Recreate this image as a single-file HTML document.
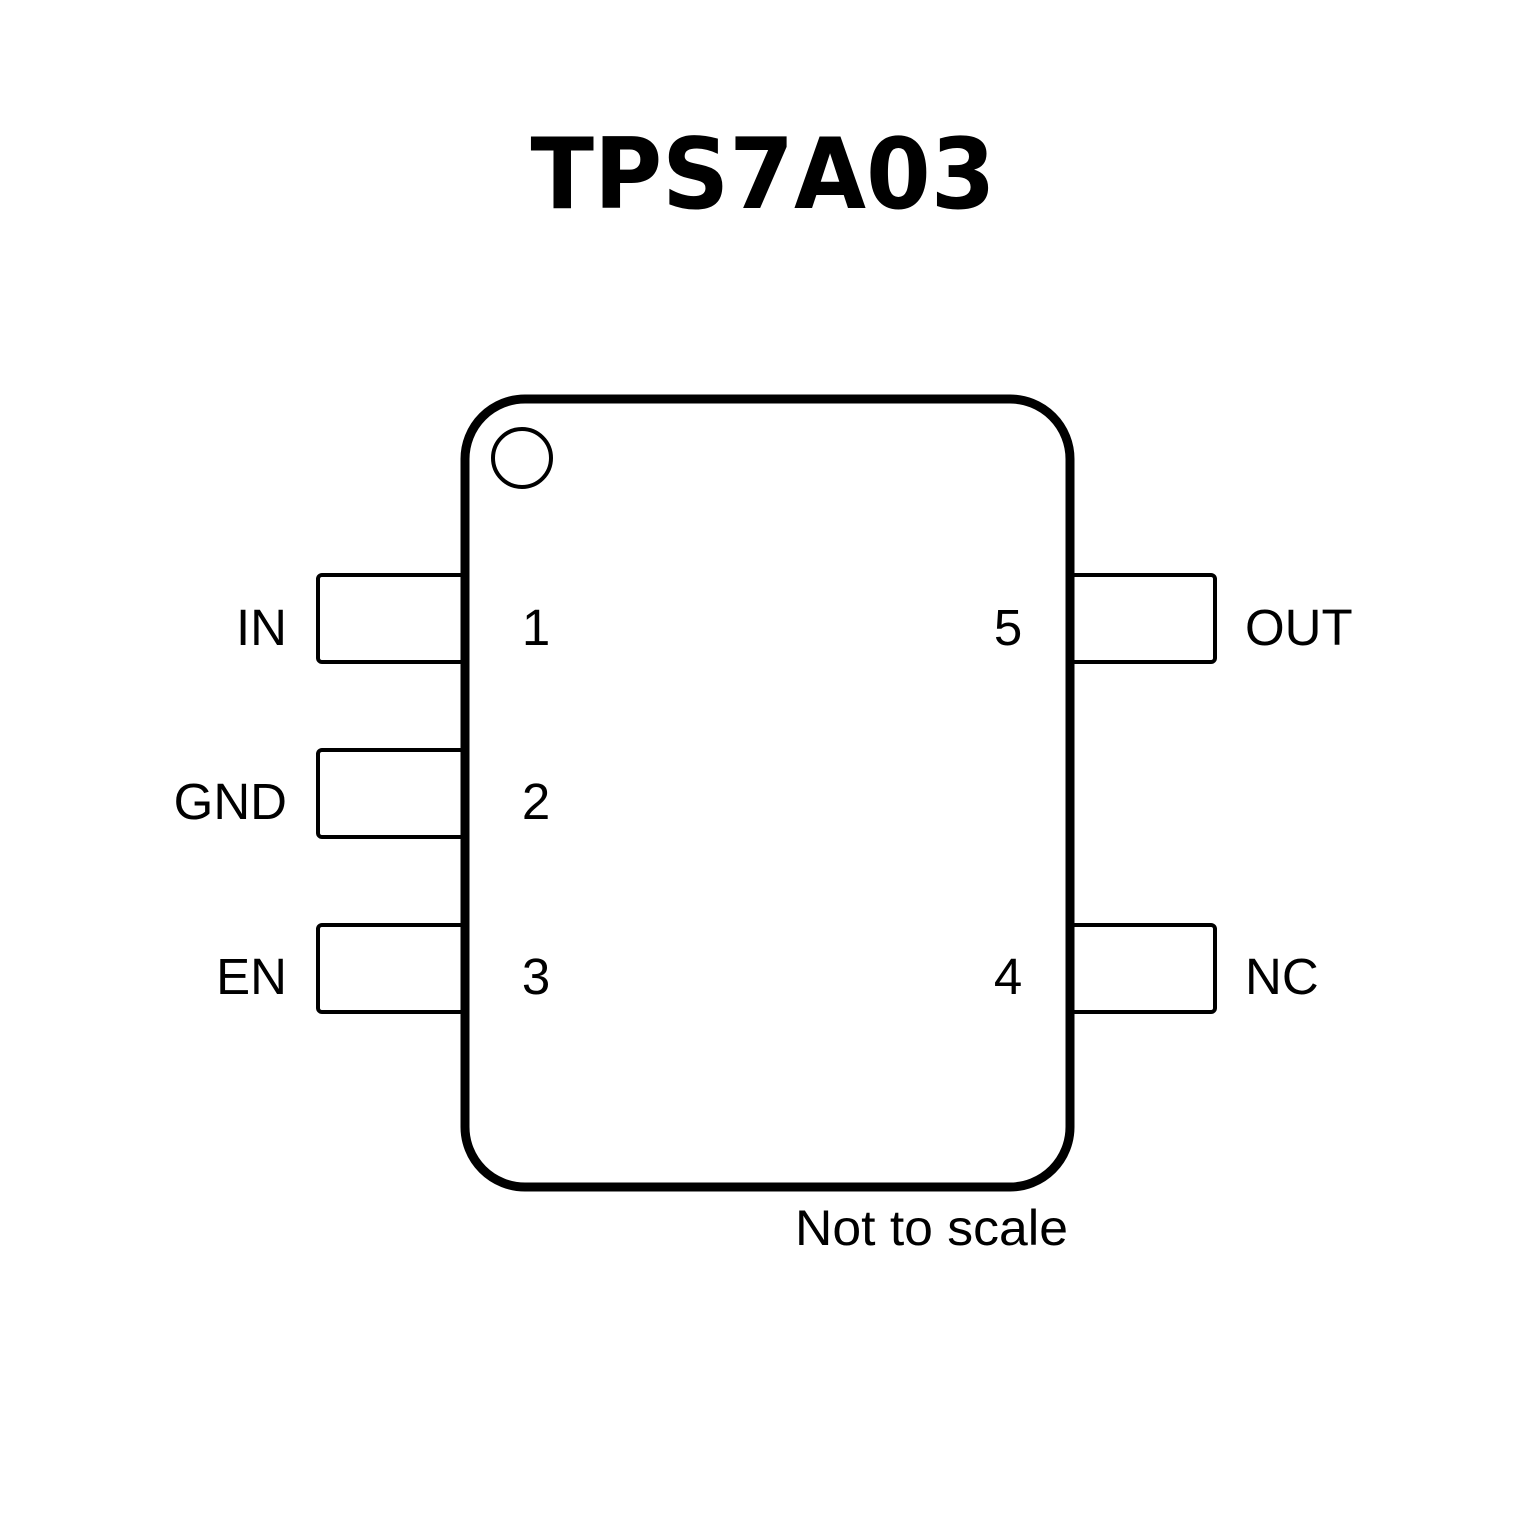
<!DOCTYPE html>
<html><head><meta charset="utf-8"><style>html,body{margin:0;padding:0;background:#fff}svg{display:block}</style></head>
<body>
<svg width="1535" height="1535" viewBox="0 0 1535 1535" xmlns="http://www.w3.org/2000/svg">
<rect width="1535" height="1535" fill="#fff"/>
<text x="763" y="208" text-anchor="middle" font-family="'DejaVu Sans','Liberation Sans',sans-serif" font-weight="bold" font-size="98" textLength="465" lengthAdjust="spacingAndGlyphs">TPS7A03</text>
<g fill="#fff" stroke="#000" stroke-width="4">
<rect x="318" y="575" width="146" height="87" rx="4"/>
<rect x="318" y="750" width="146" height="87" rx="4"/>
<rect x="318" y="925" width="146" height="87" rx="4"/>
<rect x="1071" y="575" width="144" height="87" rx="4"/>
<rect x="1071" y="925" width="144" height="87" rx="4"/>
</g>
<rect x="465" y="399" width="605" height="788" rx="60" fill="#fff" stroke="#000" stroke-width="9"/>
<circle cx="522" cy="458" r="29" fill="none" stroke="#000" stroke-width="4"/>
<g font-family="'Liberation Sans',Arial,sans-serif" font-size="51" fill="#000">
<text x="287" y="645" text-anchor="end">IN</text>
<text x="287" y="819" text-anchor="end">GND</text>
<text x="287" y="994" text-anchor="end">EN</text>
<text x="536" y="645" text-anchor="middle">1</text>
<text x="536" y="819" text-anchor="middle">2</text>
<text x="536" y="994" text-anchor="middle">3</text>
<text x="1008" y="645" text-anchor="middle">5</text>
<text x="1008" y="994" text-anchor="middle">4</text>
<text x="1245" y="645">OUT</text>
<text x="1245" y="994">NC</text>
<text x="795" y="1245" font-size="50" textLength="273" lengthAdjust="spacingAndGlyphs">Not to scale</text>
</g>
</svg>
</body></html>
